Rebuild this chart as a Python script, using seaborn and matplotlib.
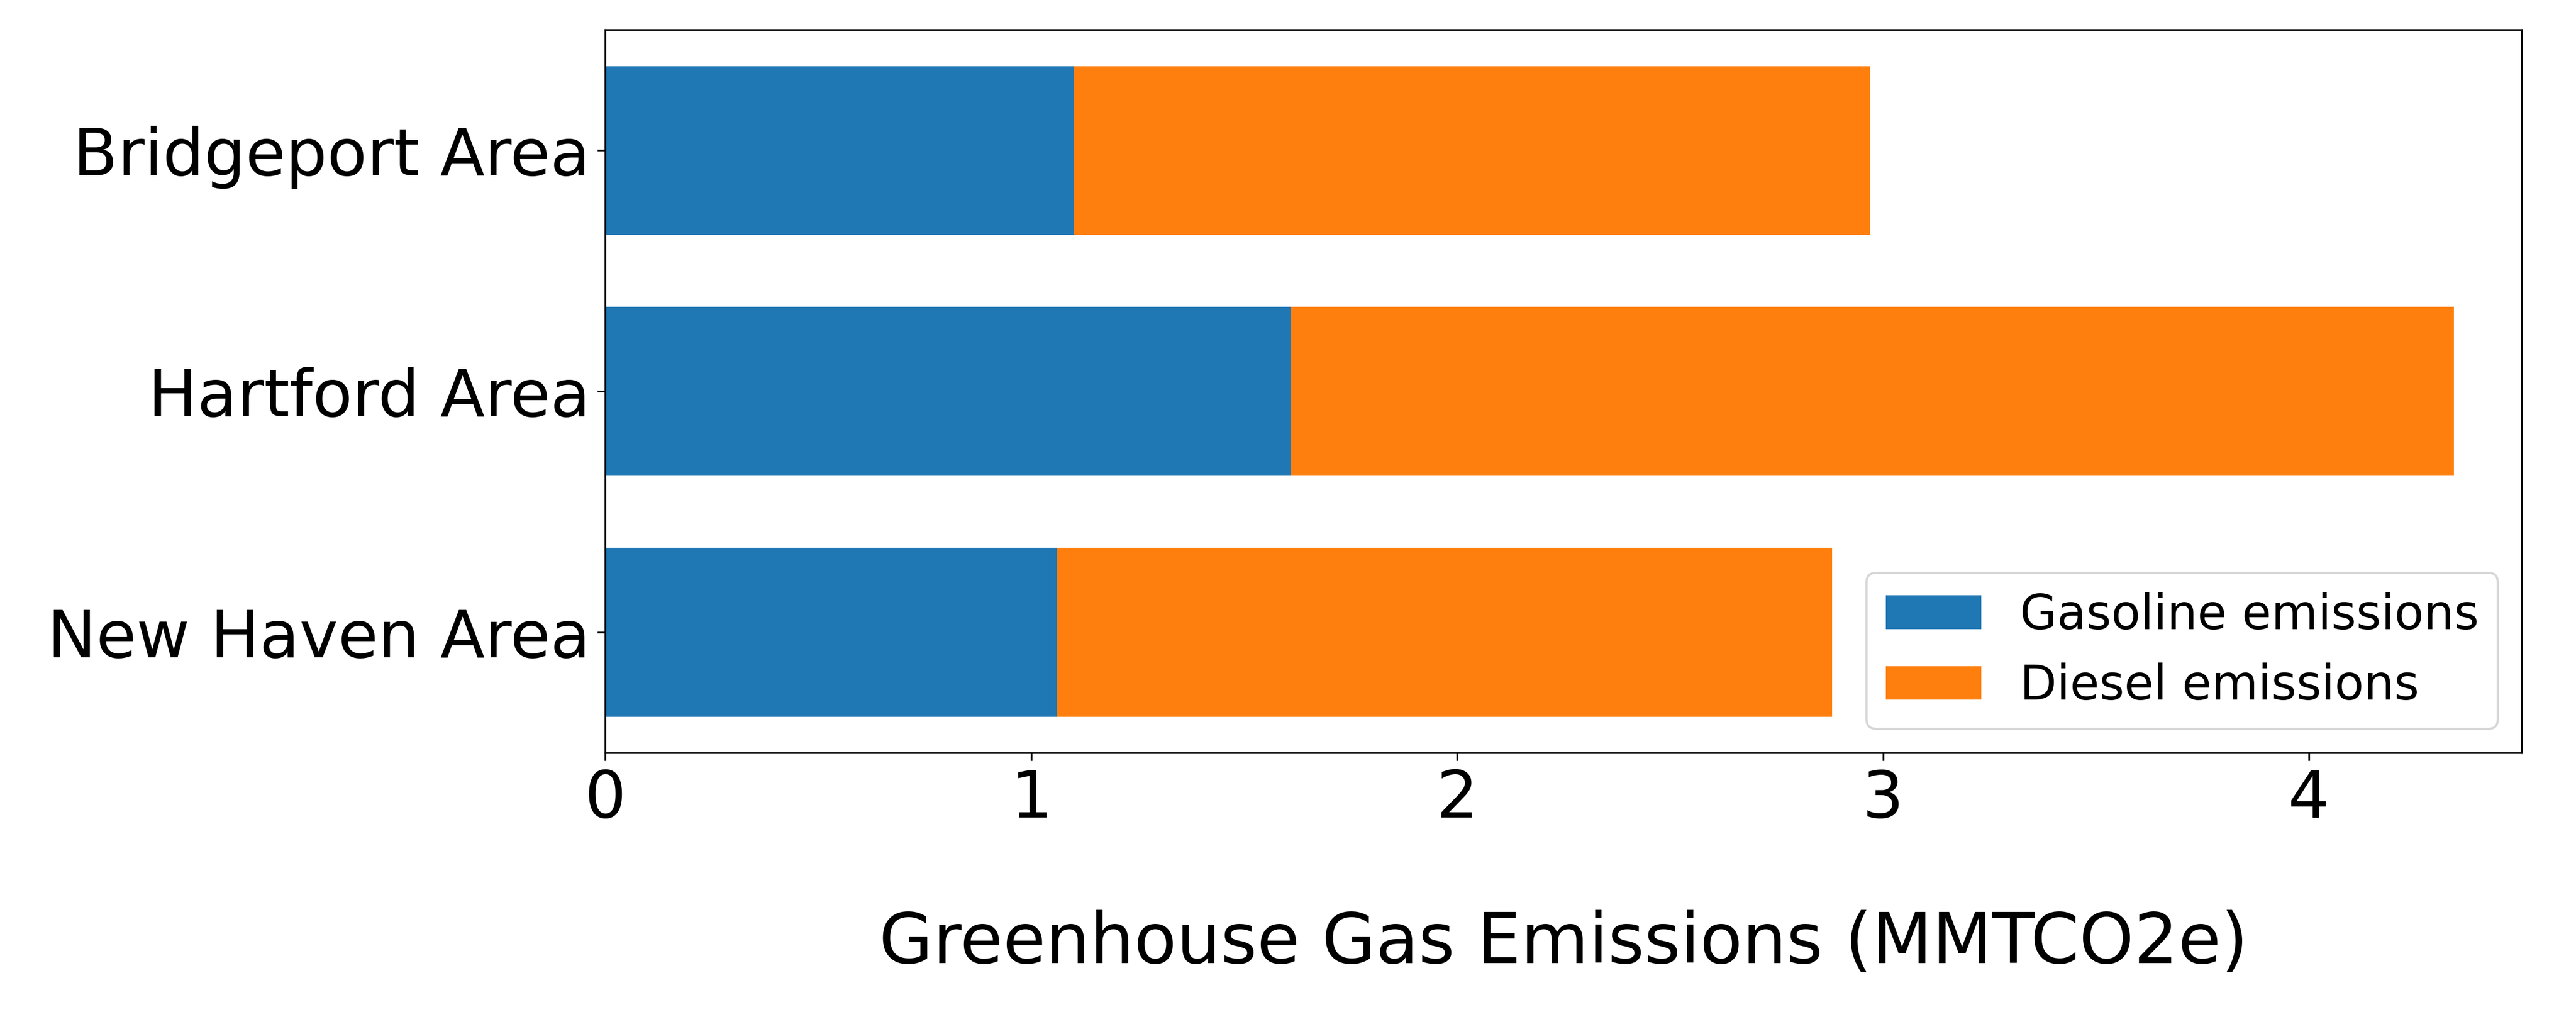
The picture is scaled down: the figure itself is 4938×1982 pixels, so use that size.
import matplotlib
matplotlib.use("Agg")
import matplotlib.pyplot as plt
import seaborn as sns
import pandas as pd

areas = ["Bridgeport Area", "Hartford Area", "New Haven Area"]
gasoline = [1.10, 1.61, 1.06]
diesel = [1.87, 2.73, 1.82]
xticks = [0, 1, 2, 3, 4]

totals = [g + d for g, d in zip(gasoline, diesel)]
df = pd.DataFrame({"area": areas, "gas": gasoline, "total": totals})

fig = plt.figure(figsize=(16.46, 6.607), dpi=300)
ax = fig.add_axes([0.235, 0.272, 0.744, 0.699])
sns.barplot(data=df, y="area", x="total", color="#ff7f0e", saturation=1, width=0.7,
            orient="h", ax=ax, label="Diesel emissions")
sns.barplot(data=df, y="area", x="gas", color="#1f77b4", saturation=1, width=0.7,
            orient="h", ax=ax, label="Gasoline emissions")
ax.set_xlim(0, 4.5)
ax.set_xticks(xticks)
ax.set_ylabel("")
ax.set_xlabel("Greenhouse Gas Emissions (MMTCO2e)", fontsize=32, labelpad=36)
ax.tick_params(axis="both", labelsize=30)
h, l = ax.get_legend_handles_labels()
ax.legend(h[::-1], l[::-1], loc="lower right", fontsize=22)
fig.savefig("out.png", dpi=300)
